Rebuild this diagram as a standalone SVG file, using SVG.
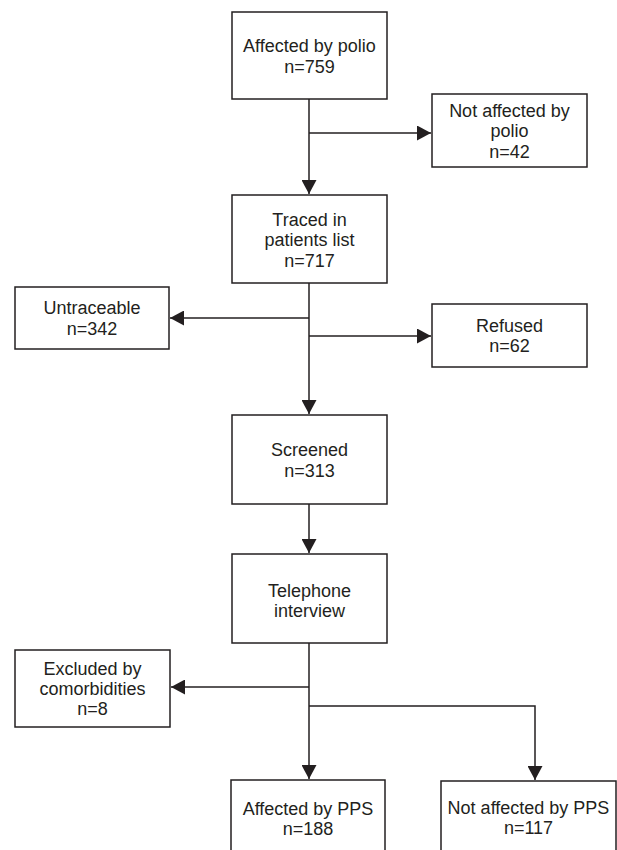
<svg xmlns="http://www.w3.org/2000/svg" width="617" height="850" viewBox="0 0 617 850">
<style>
  .box { fill: #ffffff; stroke: #231f20; stroke-width: 1.5; }
  .lbl { font-family: "Liberation Sans", Arial, sans-serif; font-size: 18px; fill: #231f20; text-anchor: middle; }
  .edge { fill: none; stroke: #231f20; stroke-width: 1.5; }
</style>
<defs>
  <marker id="arr" markerUnits="userSpaceOnUse" markerWidth="14" markerHeight="15" refX="14" refY="7.5" orient="auto" viewBox="0 0 14 15">
    <path d="M0,0 L14,7.5 L0,15 z" fill="#231f20"/>
  </marker>
</defs>
<rect width="617" height="850" fill="#ffffff"/>
<g id="connectors">
  <path class="edge" d="M309,99 V194" marker-end="url(#arr)"/>
  <path class="edge" d="M309,133 H431" marker-end="url(#arr)"/>
  <path class="edge" d="M309,283 V414" marker-end="url(#arr)"/>
  <path class="edge" d="M309,318 H170" marker-end="url(#arr)"/>
  <path class="edge" d="M309,336 H431" marker-end="url(#arr)"/>
  <path class="edge" d="M309,504 V553" marker-end="url(#arr)"/>
  <path class="edge" d="M309,643 V779" marker-end="url(#arr)"/>
  <path class="edge" d="M309,687 H171" marker-end="url(#arr)"/>
  <path class="edge" d="M309,706 H535 V780" marker-end="url(#arr)"/>
</g>
<g id="n1">
  <rect class="box" x="232" y="12" width="155" height="87"/>
  <text class="lbl" x="309.5" y="52">Affected by polio</text>
  <text class="lbl" x="309.5" y="73">n=759</text>
</g>
<g id="n2">
  <rect class="box" x="432" y="94" width="155" height="73"/>
  <text class="lbl" x="509.5" y="117">Not affected by</text>
  <text class="lbl" x="509.5" y="137">polio</text>
  <text class="lbl" x="509.5" y="158">n=42</text>
</g>
<g id="n3">
  <rect class="box" x="232" y="195" width="155" height="88"/>
  <text class="lbl" x="309.5" y="226">Traced in</text>
  <text class="lbl" x="309.5" y="246">patients list</text>
  <text class="lbl" x="309.5" y="267">n=717</text>
</g>
<g id="n4">
  <rect class="box" x="15" y="287" width="154" height="62"/>
  <text class="lbl" x="92" y="314">Untraceable</text>
  <text class="lbl" x="92" y="335">n=342</text>
</g>
<g id="n5">
  <rect class="box" x="432" y="304" width="155" height="63"/>
  <text class="lbl" x="509.5" y="332">Refused</text>
  <text class="lbl" x="509.5" y="352">n=62</text>
</g>
<g id="n6">
  <rect class="box" x="232" y="415" width="155" height="89"/>
  <text class="lbl" x="309.5" y="456">Screened</text>
  <text class="lbl" x="309.5" y="477">n=313</text>
</g>
<g id="n7">
  <rect class="box" x="232" y="554" width="155" height="89"/>
  <text class="lbl" x="309.5" y="597">Telephone</text>
  <text class="lbl" x="309.5" y="617">interview</text>
</g>
<g id="n8">
  <rect class="box" x="15" y="650" width="155" height="77"/>
  <text class="lbl" x="92.5" y="675">Excluded by</text>
  <text class="lbl" x="92.5" y="695">comorbidities</text>
  <text class="lbl" x="92.5" y="715">n=8</text>
</g>
<g id="n9">
  <rect class="box" x="231" y="780" width="154" height="90"/>
  <text class="lbl" x="308" y="815">Affected by PPS</text>
  <text class="lbl" x="308" y="835">n=188</text>
</g>
<g id="n10">
  <rect class="box" x="441" y="781" width="175" height="90"/>
  <text class="lbl" x="528.5" y="814">Not affected by PPS</text>
  <text class="lbl" x="528.5" y="834">n=117</text>
</g>
</svg>
